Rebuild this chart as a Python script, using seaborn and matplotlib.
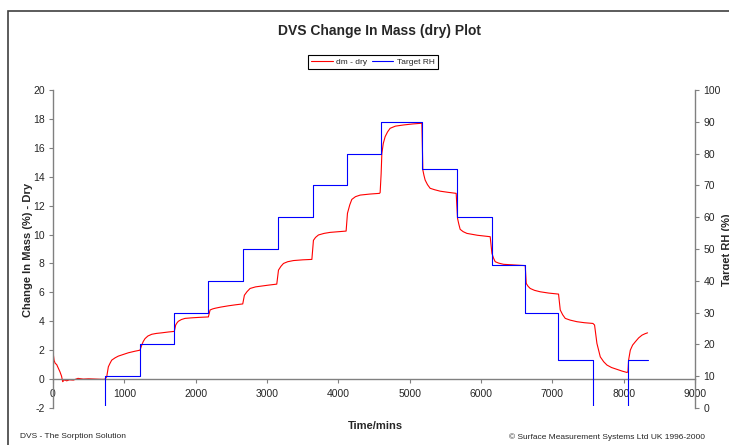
import numpy as np
import pandas as pd
import matplotlib
matplotlib.use("Agg")
import matplotlib.pyplot as plt
import seaborn as sns
from matplotlib.patches import Rectangle
from matplotlib.transforms import Bbox, TransformedBbox

# datos
tiempo_masa = [0, 5, 15, 30, 52, 75, 98, 120, 136, 160, 192, 230, 285, 350, 425, 500, 600, 705, 730,
               753, 776, 800, 823, 870, 916, 1000, 1056, 1150, 1220,
               1244, 1265, 1290, 1330, 1384, 1450, 1524, 1620, 1701,
               1720, 1740, 1757, 1800, 1851, 1950, 2050, 2178,
               2202, 2235, 2272, 2350, 2459, 2560, 2660,
               2683, 2720, 2763, 2840, 2927, 3020, 3137,
               3161, 3195, 3231, 3290, 3371, 3500, 3629,
               3651, 3680, 3721, 3800, 3885, 4000, 4109,
               4128, 4160, 4189, 4240, 4306, 4440, 4577,
               4586, 4600, 4610, 4630, 4656, 4690, 4726, 4800, 4913, 5040, 5171,
               5185, 5200, 5217, 5250, 5287, 5350, 5428, 5540, 5652,
               5671, 5690, 5708, 5750, 5802, 5950, 6129,
               6153, 6175, 6199, 6250, 6316, 6450, 6620,
               6634, 6660, 6690, 6750, 6830, 6950, 7087,
               7111, 7145, 7181, 7250, 7345, 7450, 7569,
               7592, 7625, 7672, 7720, 7766, 7830, 7906, 7980, 8046,
               8060, 8069, 8093, 8125, 8163, 8210, 8257, 8300, 8335]
masa = [2.7, 1.7, 1.3, 1.1, 1.0, 0.75, 0.5, 0.2, -0.18, -0.05, -0.12, -0.05, -0.07, 0.05, 0.0, 0.02, 0.0, -0.02, 0.0,
        0.16, 0.85, 1.1, 1.31, 1.47, 1.59, 1.73, 1.82, 1.93, 2.0,
        2.35, 2.6, 2.8, 2.98, 3.1, 3.16, 3.2, 3.26, 3.3,
        3.74, 3.9, 4.0, 4.12, 4.2, 4.24, 4.27, 4.3,
        4.78, 4.85, 4.9, 4.98, 5.07, 5.14, 5.2,
        5.8, 6.05, 6.27, 6.38, 6.44, 6.5, 6.57,
        7.54, 7.8, 8.0, 8.12, 8.2, 8.25, 8.28,
        9.6, 9.8, 9.97, 10.08, 10.15, 10.2, 10.24,
        11.47, 12.05, 12.43, 12.62, 12.73, 12.8, 12.85,
        12.9, 14.2, 15.6, 16.3, 16.77, 17.1, 17.35, 17.5, 17.58, 17.65, 17.7,
        14.46, 14.1, 13.77, 13.45, 13.2, 13.1, 13.0, 12.92, 12.85,
        11.12, 10.7, 10.36, 10.2, 10.08, 9.95, 9.85,
        8.7, 8.38, 8.12, 8.02, 7.94, 7.9, 7.85,
        6.62, 6.42, 6.27, 6.14, 6.04, 5.95, 5.88,
        4.78, 4.45, 4.2, 4.08, 3.97, 3.9, 3.85,
        3.74, 2.47, 1.54, 1.2, 0.97, 0.8, 0.67, 0.55, 0.46,
        0.5, 1.31, 2.0, 2.35, 2.58, 2.85, 3.04, 3.14, 3.2]

tiempo_rh = [0, 730, 1220, 1700, 2175, 2665, 3155, 3645, 4120, 4600, 5175,
             5665, 6160, 6620, 7080, 7575, 8065, 8345]
rh = [0, 10, 20, 30, 40, 50, 60, 70, 80, 90, 75, 60, 45, 30, 15, 0, 15, 15]

xticks = list(range(0, 9001, 1000))
yticks_izq = list(range(-2, 21, 2))
yticks_der = list(range(0, 101, 10))

df_masa = pd.DataFrame({"t": tiempo_masa, "dm": masa})
df_rh = pd.DataFrame({"t": tiempo_rh, "rh": rh})

sns.set_style("white")
plt.rcParams["font.family"] = ["Liberation Sans", "DejaVu Sans"]
plt.rcParams["axes.unicode_minus"] = False

W, H = 729, 445
fig = plt.figure(figsize=(W / 100, H / 100), dpi=100)
ax = fig.add_axes([53 / W, 1 - 408 / H, 642 / W, 318 / H])
ax2 = ax.twinx()

sns.lineplot(data=df_masa, x="t", y="dm", ax=ax, color="#ff0000", lw=0.8,
             sort=False, estimator=None, label="dm - dry")
sns.lineplot(data=df_rh, x="t", y="rh", ax=ax2, color="#0000ff", lw=0.8,
             sort=False, estimator=None, drawstyle="steps-post", label="Target RH")
for a in (ax, ax2):
    if a.get_legend() is not None:
        a.get_legend().remove()

# el tramo en 0 % queda oculto en el borde inferior, como en el original
linea_rh = ax2.get_lines()[0]
linea_rh.set_clip_box(TransformedBbox(Bbox([[0, 0.005], [1, 1.01]]), ax2.transAxes))

gris = "#808080"
ax.set_xlim(0, 9000)
ax.set_ylim(-2, 20)
ax2.set_ylim(0, 100)
ax.set_xticks(xticks)
ax.set_yticks(yticks_izq)
ax2.set_yticks(yticks_der)

for s in ["top", "right"]:
    ax.spines[s].set_visible(False)
for s in ["top", "bottom", "left"]:
    ax2.spines[s].set_visible(False)
ax.spines["bottom"].set_position(("data", 0))
ax.spines["bottom"].set_color(gris)
ax.spines["left"].set_color(gris)
ax2.spines["right"].set_color(gris)
for s in [ax.spines["bottom"], ax.spines["left"], ax2.spines["right"]]:
    s.set_linewidth(1.0)

ax.tick_params(axis="both", direction="out", length=3, width=0.8, color=gris,
               labelsize=7.5, pad=3, bottom=True, left=True)
ax.tick_params(axis="x", pad=4)
ax2.tick_params(axis="y", direction="out", length=3, width=0.8, color=gris,
                labelsize=7.5, pad=3, right=True)
ax.set_xlabel("")
ax.set_ylabel("")
ax2.set_ylabel("")

fig.text(28 / W, 1 - 250 / H, "Change In Mass (%) - Dry", rotation=90,
         ha="center", va="center", fontsize=8, fontweight="bold")
fig.text(727 / W, 1 - 250 / H, "Target RH (%)", rotation=90,
         ha="center", va="center", fontsize=8, fontweight="bold")
fig.text(375 / W, 1 - 426 / H, "Time/mins", ha="center", va="center",
         fontsize=8, fontweight="bold")
fig.text(380 / W, 1 - 31 / H, "DVS Change In Mass (dry) Plot", ha="center",
         va="center", fontsize=10, fontweight="bold")
fig.text(20 / W, 1 - 437 / H, "DVS - The Sorption Solution", ha="left",
         va="center", fontsize=6)
fig.text(705 / W, 1 - 437 / H, "\u00a9 Surface Measurement Systems Ltd UK 1996-2000",
         ha="right", va="center", fontsize=6)

h1, l1 = ax.get_legend_handles_labels()
h2, l2 = ax2.get_legend_handles_labels()
leg = fig.legend(h1 + h2, l1 + l2, loc="center", bbox_to_anchor=(373 / W, 1 - 62 / H),
                 ncol=2, fontsize=6, frameon=True, fancybox=False, edgecolor="black",
                 handlelength=2.6, columnspacing=0.5, handletextpad=0.4,
                 borderpad=0.4, framealpha=1)
leg.get_frame().set_linewidth(0.8)

# borde del area del grafico
fig.patches.append(Rectangle((8 / W, -0.2), 1.2, 1.2 - 10.5 / H, transform=fig.transFigure,
                             fill=False, edgecolor="#404040", lw=1.2))

fig.savefig("out.png", dpi=100)
